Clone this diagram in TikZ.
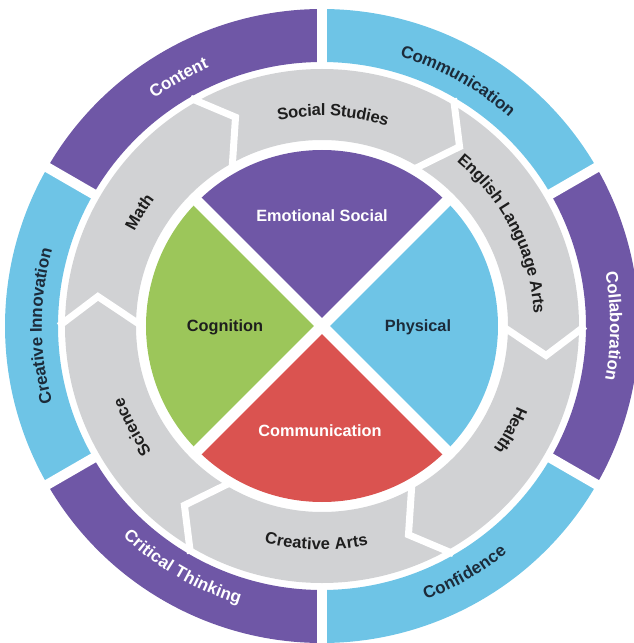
\documentclass[tikz,border=0pt]{standalone}
\usepackage{fontspec}
\setmainfont{Liberation Sans}
\usetikzlibrary{decorations.text}
\definecolor{cpurple}{HTML}{6F57A6}
\definecolor{cblue}{HTML}{6EC4E6}
\definecolor{cgray}{HTML}{D1D2D4}
\definecolor{cgreen}{HTML}{9CC65A}
\definecolor{cred}{HTML}{DA5350}
\definecolor{navy}{HTML}{1C2B3A}
\definecolor{ink}{HTML}{1E1E1E}
\newcommand\ofnt{\fontsize{17}{20}\selectfont\bfseries}
\newcommand\gfnt{\fontsize{16.5}{19}\selectfont\bfseries}
\newcommand\ifnt{\fontsize{16.3}{19}\selectfont\bfseries}
% clockwise text (tops outward): angle, radius, colour, font, text
\newcommand\cwtext[5]{\path[decorate,decoration={text along path,text align=center,raise=-5.8pt,text color=#3,text={|#4|#5}}] (#1+50:#2) arc[start angle=#1+50,end angle=#1-50,radius=#2];}
% counter-clockwise text (tops inward)
\newcommand\ccwtext[5]{\path[decorate,decoration={text along path,text align=center,raise=-5.8pt,text color=#3,text={|#4|#5}}] (#1-50:#2) arc[start angle=#1-50,end angle=#1+50,radius=#2];}
\begin{document}
\begin{tikzpicture}[x=1pt,y=1pt,
  gap/.style={white,line width=#1},
  inlabel/.style={font=\ifnt,inner sep=0pt}]
\useasboundingbox (-322,-317) rectangle (312,326);
\clip (-322,-317) rectangle (312,326);
% outer ring
\fill[cblue]   (30:264)  arc[start angle=30, end angle=90, radius=264]  -- (90:317)  arc[start angle=90, end angle=30, radius=317] -- cycle;
\fill[cpurple] (90:264)  arc[start angle=90, end angle=150,radius=264]  -- (150:317) arc[start angle=150,end angle=90, radius=317] -- cycle;
\fill[cblue]   (150:264) arc[start angle=150,end angle=210,radius=264]  -- (210:317) arc[start angle=210,end angle=150,radius=317] -- cycle;
\fill[cpurple] (210:264) arc[start angle=210,end angle=270,radius=264]  -- (270:317) arc[start angle=270,end angle=210,radius=317] -- cycle;
\fill[cblue]   (270:264) arc[start angle=270,end angle=330,radius=264]  -- (330:317) arc[start angle=330,end angle=270,radius=317] -- cycle;
\fill[cpurple] (-30:264) arc[start angle=-30,end angle=30, radius=264]  -- (30:317)  arc[start angle=30, end angle=-30,radius=317] -- cycle;
\foreach \a in {30,90,...,330} \draw[gap=10pt] (\a:259) -- (\a:324);
% grey arrow ring
\fill[cgray,even odd rule] (0,0) circle[radius=257] (0,0) circle[radius=186];
\foreach \b in {0,60,...,300} \draw[gap=7pt,line join=miter] (\b:263) -- (\b-7.5:226) -- (\b:180);
% inner pie
\fill[cpurple] (0,0) -- (45:176)  arc[start angle=45, end angle=135,radius=176] -- cycle;
\fill[cgreen]  (0,0) -- (135:176) arc[start angle=135,end angle=225,radius=176] -- cycle;
\fill[cred]    (0,0) -- (225:176) arc[start angle=225,end angle=315,radius=176] -- cycle;
\fill[cblue]   (0,0) -- (-45:176) arc[start angle=-45,end angle=45, radius=176] -- cycle;
\draw[gap=11pt] (45:182) -- (225:182);
\draw[gap=11pt] (135:182) -- (315:182);
% inner labels
\node[inlabel,text=white] (es) at (0,110) {Emotional Social};
\node[inlabel,text=ink]   (cg) at (-97,-1) {Cognition};
\node[inlabel,text=navy]  (ph) at (96,-1) {Physical};
\node[inlabel,text=white] (cm) at (-2,-105) {Communication};
% grey ring labels
\cwtext{87}{216}{ink}{\gfnt}{Social Studies}
\cwtext{27}{218}{ink}{\gfnt}{English Language Arts}
\cwtext{-29}{217}{ink}{\gfnt}{Health}
\ccwtext{268.5}{218}{ink}{\gfnt}{Creative Arts}
\cwtext{208}{217}{ink}{\gfnt}{Science}
\cwtext{148}{216}{ink}{\gfnt}{Math}
% outer ring labels
\cwtext{120}{288}{white}{\ofnt}{Content}
\cwtext{61}{286}{navy}{\ofnt}{Communication}
\cwtext{0}{294}{white}{\ofnt}{Collaboration}
\ccwtext{300}{287}{navy}{\ofnt}{Confidence}
\ccwtext{240}{284}{white}{\ofnt}{Critical Thinking}
\cwtext{180}{286}{navy}{\ofnt}{Creative Innovation}
\end{tikzpicture}
\end{document}
